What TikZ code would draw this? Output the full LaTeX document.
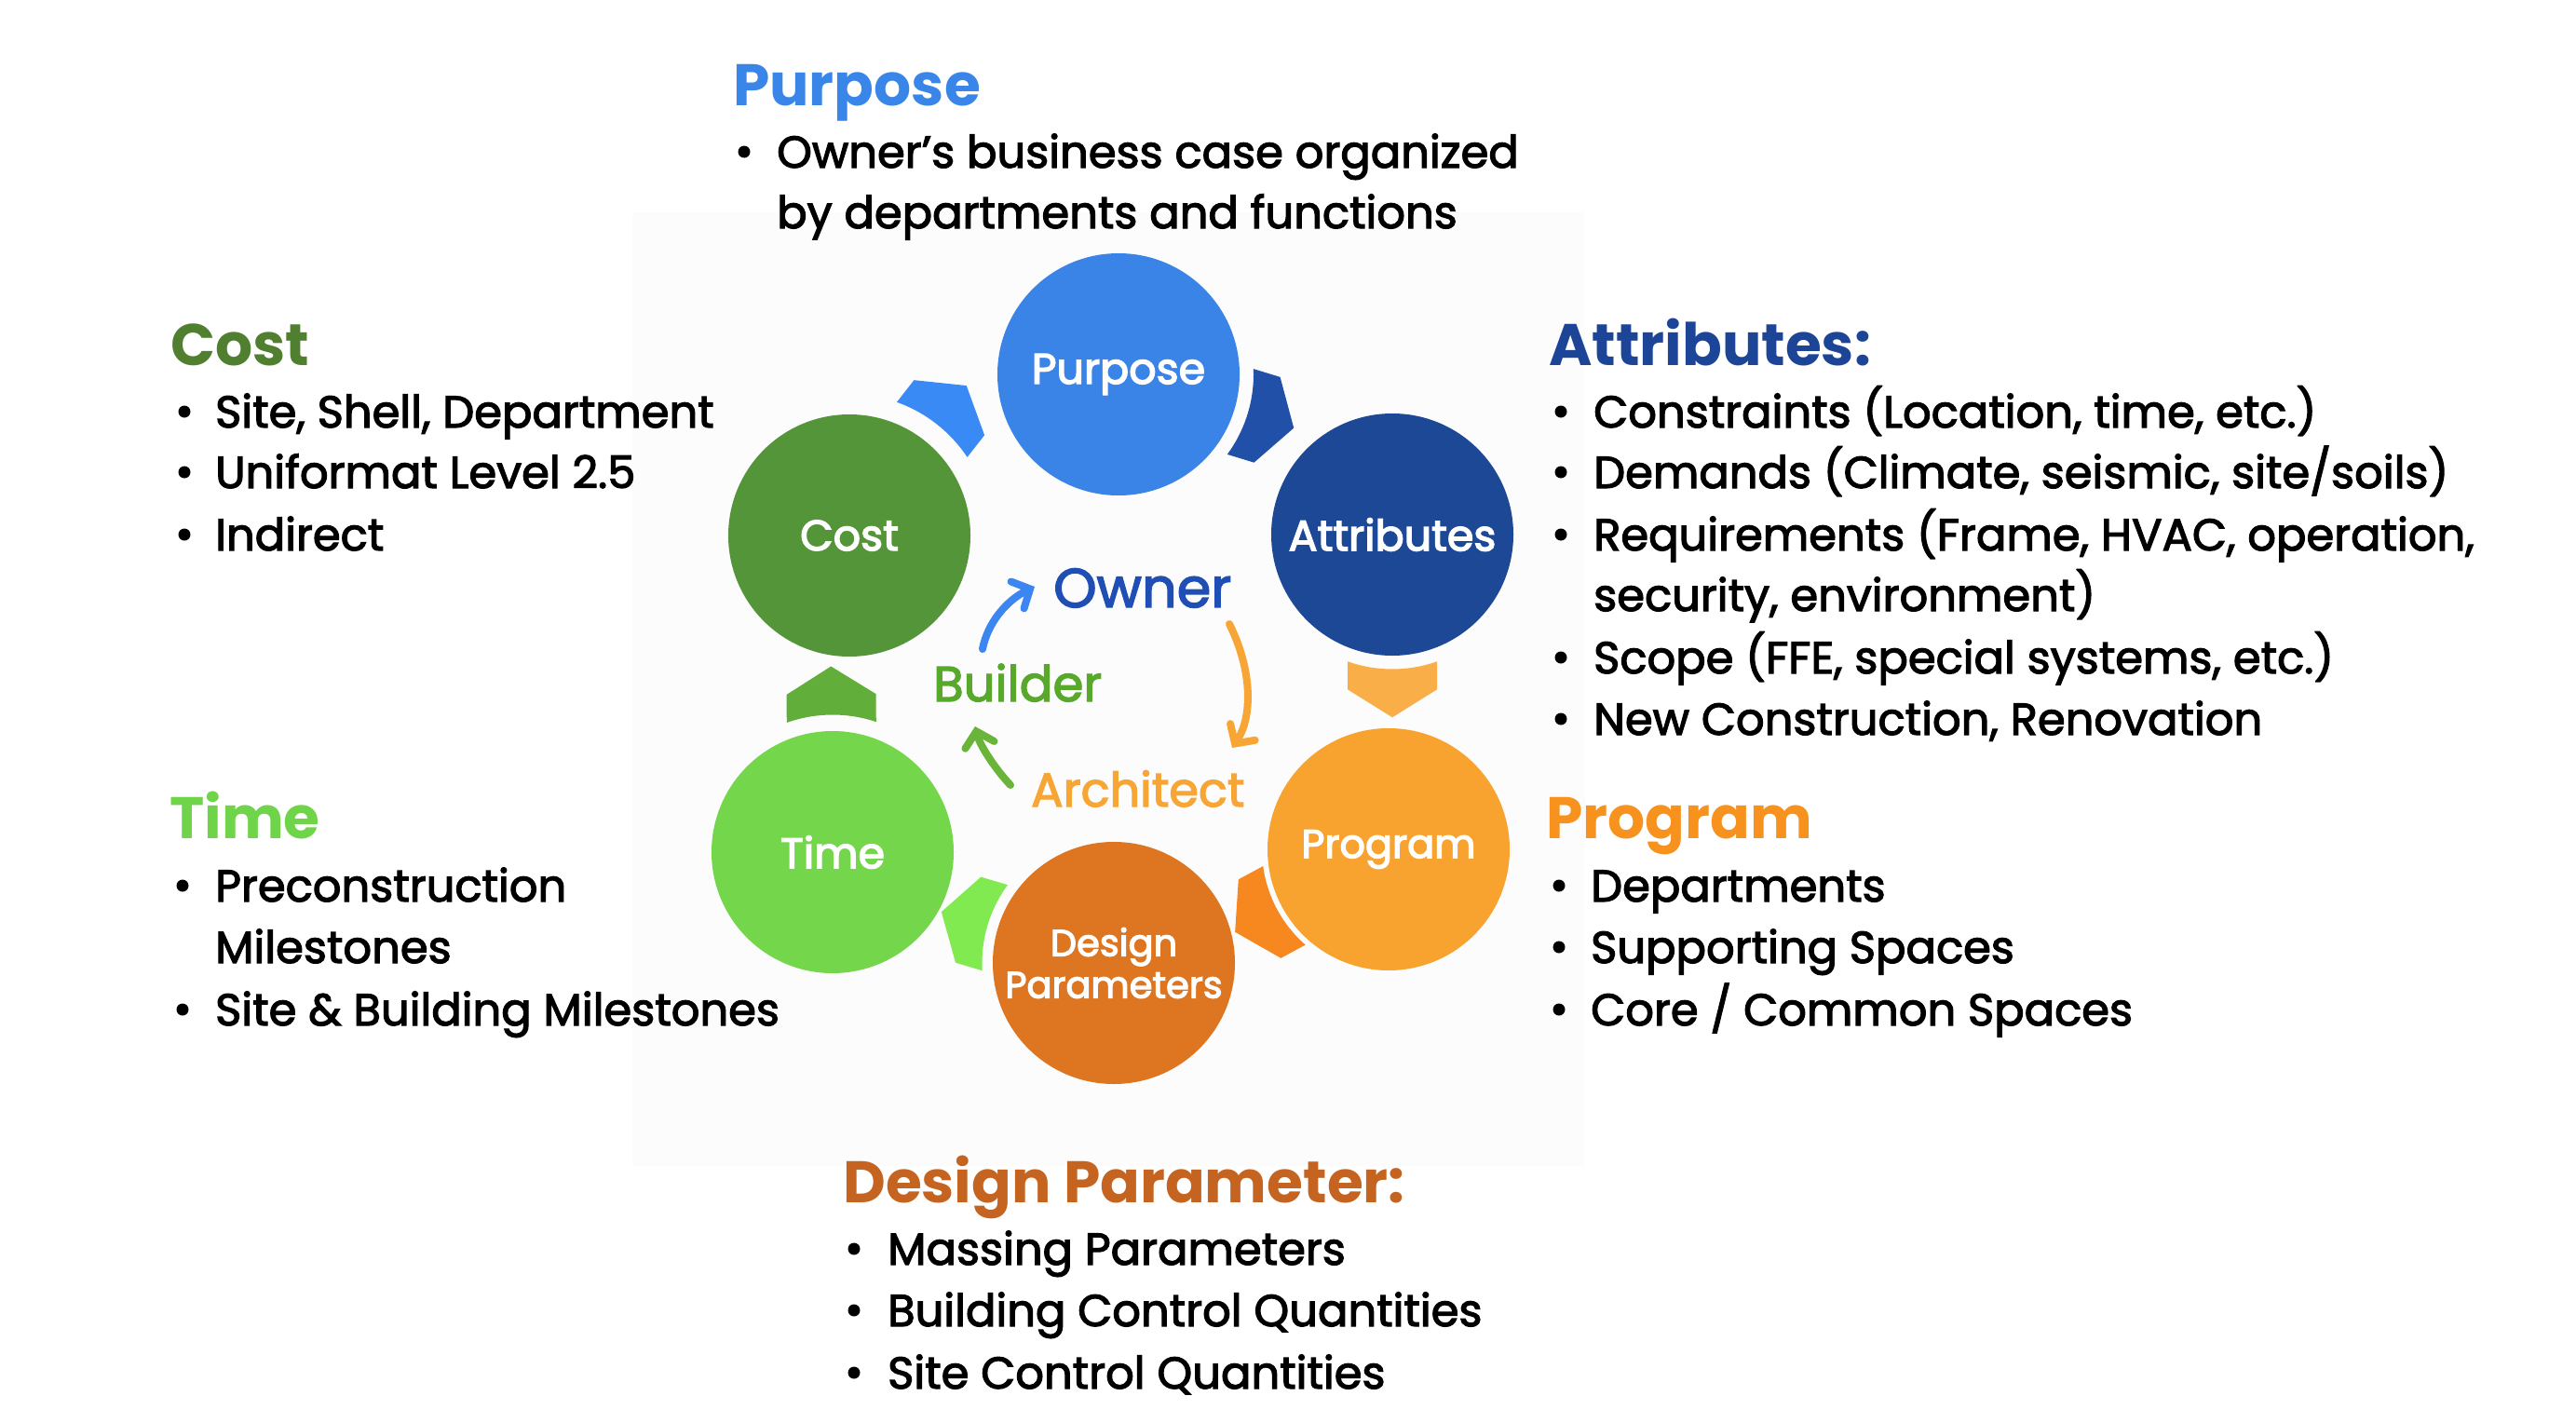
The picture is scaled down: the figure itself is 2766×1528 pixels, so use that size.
\documentclass[tikz,border=0pt]{standalone}
\usepackage{fontspec}
\setmainfont{Poppins}
\newfontfamily\medfont{Poppins}[FakeBold=2.5]
\newfontfamily\labfont{Poppins}[FakeBold=3]
\usetikzlibrary{calc,arrows.meta}

% circle fills
\definecolor{cCost}{HTML}{55953A}
\definecolor{cPurpose}{HTML}{3A84E8}
\definecolor{cAttr}{HTML}{1C4896}
\definecolor{cProgram}{HTML}{F8A22F}
\definecolor{cDesign}{HTML}{DE7520}
\definecolor{cTime}{HTML}{74D64A}
% link shapes
\definecolor{lkBlue}{HTML}{3A8AF6}
\definecolor{lkDBlue}{HTML}{2050A8}
\definecolor{lkOrange}{HTML}{F9AE48}
\definecolor{lkDOrange}{HTML}{F7871F}
\definecolor{lkLGreen}{HTML}{80EA50}
\definecolor{lkGreen}{HTML}{62AE3A}
% headings
\definecolor{hPurpose}{HTML}{3A86E8}
\definecolor{hCost}{HTML}{4F7F2F}
\definecolor{hAttr}{HTML}{1D4597}
\definecolor{hTime}{HTML}{6FD44A}
\definecolor{hProgram}{HTML}{F7921E}
\definecolor{hDesign}{HTML}{C56420}
% centre roles
\definecolor{rOwner}{HTML}{1F4FB5}
\definecolor{rBuilder}{HTML}{58A82C}
\definecolor{rArch}{HTML}{F7A535}
\definecolor{aBlue}{HTML}{3B86F0}
\definecolor{aGreen}{HTML}{6AB43A}
\definecolor{panel}{HTML}{FCFCFC}

\tikzset{
  stage/.style={circle, minimum size=260pt, inner sep=0pt, text=white,
    font=\labfont\fontsize{46}{52}\selectfont, align=center},
  head/.style={anchor=base west, inner sep=0pt, font=\fontsize{63}{63}\selectfont\bfseries},
  item/.style={anchor=base west, inner sep=0pt, font=\medfont\fontsize{48}{48}\selectfont},
  dot/.style={circle, fill=black, minimum size=13pt, inner sep=0pt, yshift=17pt},
  role/.style={anchor=base west, inner sep=0pt},
  cycarrow/.style={line width=8pt, line cap=round,
    -{Straight Barb[length=15pt, width=32pt, line cap=round]}}
}

\begin{document}
\begin{tikzpicture}[x=1pt, y=-1pt]
\useasboundingbox (0,0) rectangle (2766,1528);
\fill[white] (0,0) rectangle (2766,1528);
\fill[panel] (679,228) rectangle (1702,1252);

% the six stages
\node[stage, fill=cPurpose] (purpose) at (1201,402) {Purpose};
\node[stage, fill=cAttr] (attributes) at (1495,574) {Attributes};
\node[stage, fill=cProgram, font=\labfont\fontsize{43}{52}\selectfont] (program) at (1491,912) {Program};
\node[stage, fill=cDesign, font=\labfont\fontsize{40}{45}\selectfont] (design) at (1196,1034) {Design\\Parameters};
\node[stage, fill=cTime] (time) at (894,915) {Time};
\node[stage, fill=cCost] (cost) at (912,575) {Cost};

% arrow-shaped links, tail hollowed around the source stage
\foreach \src/\ang/\rad/\col in {cost/-52/152/lkBlue, purpose/17/145/lkDBlue,
    attributes/90/144.5/lkOrange, program/151.7/136/lkDOrange,
    design/-163.5/141.5/lkLGreen, time/-90.5/147.5/lkGreen}{
  \pgfmathsetmacro\hb{asin(48/\rad)}
  \pgfmathsetmacro\ch{\rad*cos(\hb)}
  \fill[\col] ($(\src)+(\ang+\hb:\rad)$)
      arc[start angle=\ang+\hb, end angle=\ang-\hb, radius=\rad]
      -- ($(\src)+(\ang:\ch+30)+(\ang-90:48)$)
      -- ($(\src)+(\ang:\ch+60)$)
      -- ($(\src)+(\ang:\ch+30)+(\ang+90:48)$) -- cycle;
}

% roles in the middle
\node[role, text=rOwner, font=\medfont\fontsize{59}{59}\selectfont] (owner) at (1131,652) {Owner};
\node[role, text=rBuilder, font=\medfont\fontsize{53}{53}\selectfont] (builder) at (1002,753) {Builder};
\node[role, text=rArch, font=\medfont\fontsize{51}{51}\selectfont] (architect) at (1107,866) {Architect};

\coordinate (bo-s) at (1055,697);
\coordinate (bo-e) at (1111,630);
\coordinate (oa-s) at (1320,670);
\coordinate (oa-e) at (1323,803);
\coordinate (ab-s) at (1085,843);
\coordinate (ab-e) at (1047,780);
\draw[cycarrow, aBlue] (bo-s) .. controls (1060,670) and (1080,645) .. (bo-e);
\draw[cycarrow, rArch] (oa-s) .. controls (1345,720) and (1345,770) .. (oa-e);
\draw[cycarrow, aGreen] (ab-s) .. controls (1068,825) and (1052,800) .. (ab-e);

% Purpose
\node[head, text=hPurpose] (hpur) at (787,113) {Purpose};
\node[dot] (pd1) at (799,180) {};
\node[item] (pt1) at (834,180) {Owner’s business case organized};
\node[item] (pt2) at (834,245) {by departments and functions};

% Cost
\node[head, text=hCost] (hcost) at (183,392) {Cost};
\node[dot] (cd1) at (198,459) {};
\node[item] (ct1) at (231,459) {Site, Shell, Department};
\node[dot] (cd2) at (198,524) {};
\node[item] (ct2) at (231,524) {Uniformat Level 2.5};
\node[dot] (cd3) at (198,591) {};
\node[item] (ct3) at (231,591) {Indirect};

% Attributes
\node[head, text=hAttr] (hattr) at (1663,392) {Attributes:};
\node[dot] (ad1) at (1676,459) {};
\node[item] (at1) at (1711,459) {Constraints (Location, time, etc.)};
\node[dot] (ad2) at (1676,524) {};
\node[item] (at2) at (1711,524) {Demands (Climate, seismic, site/soils)};
\node[dot] (ad3) at (1676,591) {};
\node[item] (at3) at (1711,591) {Requirements (Frame, HVAC, operation,};
\node[item] (at4) at (1711,656) {security, environment)};
\node[dot] (ad5) at (1676,723) {};
\node[item] (at5) at (1711,723) {Scope (FFE, special systems, etc.)};
\node[dot] (ad6) at (1676,789) {};
\node[item] (at6) at (1711,789) {New Construction, Renovation};

% Time
\node[head, text=hTime] (htime) at (182,900) {Time};
\node[dot] (td1) at (196,968) {};
\node[item] (tt1) at (231,968) {Preconstruction};
\node[item] (tt2) at (231,1034) {Milestones};
\node[dot] (td3) at (196,1101) {};
\node[item] (tt3) at (231,1101) {Site \& Building Milestones};

% Program
\node[head, text=hProgram] (hprog) at (1660,900) {Program};
\node[dot] (gd1) at (1674,968) {};
\node[item] (gt1) at (1708,968) {Departments};
\node[dot] (gd2) at (1674,1034) {};
\node[item] (gt2) at (1708,1034) {Supporting Spaces};
\node[dot] (gd3) at (1674,1101) {};
\node[item] (gt3) at (1708,1101) {Core / Common Spaces};

% Design Parameter
\node[head, text=hDesign] (hdes) at (905,1291) {Design Parameter:};
\node[dot] (dd1) at (917,1358) {};
\node[item] (dt1) at (953,1358) {Massing Parameters};
\node[dot] (dd2) at (917,1424) {};
\node[item] (dt2) at (953,1424) {Building Control Quantities};
\node[dot] (dd3) at (917,1491) {};
\node[item] (dt3) at (953,1491) {Site Control Quantities};
\end{tikzpicture}
\end{document}
